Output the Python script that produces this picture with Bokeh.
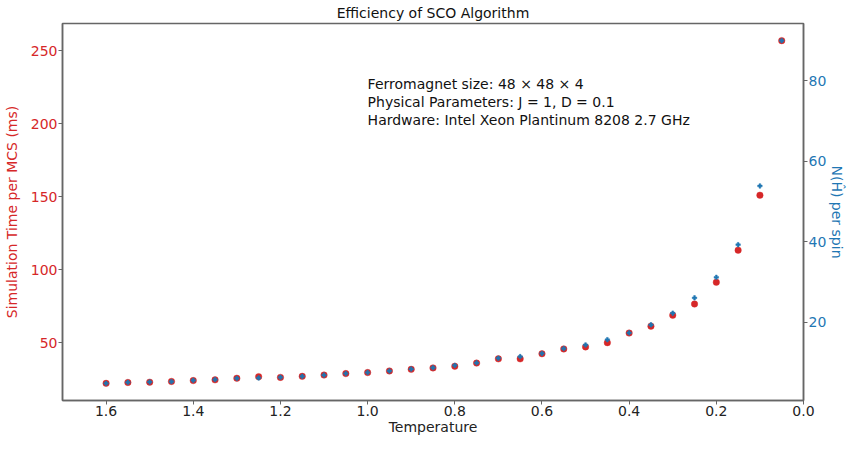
from bokeh.plotting import figure
from bokeh.models import Range1d, LinearAxis, FixedTicker, PrintfTickFormatter, Label
from bokeh.embed import file_html
from bokeh.resources import INLINE

# ---- data ----
temperature = [1.6, 1.55, 1.5, 1.45, 1.4, 1.35, 1.3, 1.25, 1.2, 1.15, 1.1,
               1.05, 1.0, 0.95, 0.9, 0.85, 0.8, 0.75, 0.7, 0.65, 0.6, 0.55,
               0.5, 0.45, 0.4, 0.35, 0.3, 0.25, 0.2, 0.15, 0.1, 0.05]
sim_time_ms = [22.1, 22.7, 22.9, 23.4, 24.0, 24.5, 25.6, 26.7, 26.2, 26.9, 27.8,
               28.8, 29.5, 30.6, 31.7, 32.7, 33.8, 36.0, 38.9, 38.9, 42.4, 45.7,
               47.1, 50.0, 56.6, 61.3, 68.8, 76.5, 91.4, 113.4, 151.1, 257.1]
n_h_per_spin = [4.85, 5.1, 5.2, 5.3, 5.6, 5.8, 6.1, 6.2, 6.35, 6.6, 6.9,
                7.3, 7.55, 7.95, 8.4, 8.75, 9.3, 9.95, 11.1, 11.5, 12.3, 13.5,
                14.4, 15.7, 17.4, 19.4, 22.3, 26.1, 31.2, 39.3, 53.9, 90.0]
x_ticks = [0.0, 0.2, 0.4, 0.6, 0.8, 1.0, 1.2, 1.4, 1.6]
left_ticks = [50, 100, 150, 200, 250]
right_ticks = [20, 40, 60, 80]
annotation_lines = ["Ferromagnet size: 48 \u00d7 48 \u00d7 4",
                    "Physical Parameters: J = 1, D = 0.1",
                    "Hardware: Intel Xeon Plantinum 8208 2.7 GHz"]

RED = "#d62728"
BLUE = "#1f77b4"
FONT = "DejaVu Sans"
SPINE = "#666666"

def pad(vals):
    lo, hi = min(vals), max(vals)
    m = 0.05 * (hi - lo)
    return lo - m, hi + m

l0, l1 = pad(sim_time_ms)
r0, r1 = pad(n_h_per_spin)

p = figure(width=848, height=437, output_backend="svg", toolbar_location=None,
           x_range=Range1d(1.7, 0.0), y_range=Range1d(l0, l1),
           min_border_left=53, min_border_right=0, min_border_top=0, min_border_bottom=0,
           title="Efficiency of SCO Algorithm")
p.extra_y_ranges = {"right": Range1d(r0, r1)}

p.title.align = "center"
p.title.text_font = FONT
p.title.text_font_size = "14px"
p.title.text_font_style = "normal"
p.title.text_color = "#111111"
p.title.standoff = 5

p.grid.visible = False
p.outline_line_color = SPINE
p.outline_line_width = 1.5
p.background_fill_color = "white"
p.border_fill_color = "white"

# bottom axis
xa = p.xaxis[0]
xa.ticker = FixedTicker(ticks=x_ticks)
xa.formatter = PrintfTickFormatter(format="%.1f")
xa.axis_label = "Temperature"

# left axis
ya = p.yaxis[0]
ya.ticker = FixedTicker(ticks=left_ticks)
ya.axis_label = "Simulation Time per MCS (ms)"
ya.axis_label_text_color = RED
ya.major_label_text_color = RED

# right axis
ra = LinearAxis(y_range_name="right", ticker=FixedTicker(ticks=right_ticks),
                axis_label="N(\u0124) per spin")
ra.axis_label_text_color = BLUE
ra.major_label_text_color = BLUE
p.add_layout(ra, "right")

for ax in (xa, ya, ra):
    ax.axis_line_color = SPINE
    ax.axis_line_width = 1.5
    ax.major_tick_line_color = SPINE
    ax.major_tick_in = 0
    ax.major_tick_out = 4
    ax.minor_tick_line_color = None
    ax.major_label_text_font = FONT
    ax.major_label_text_font_size = "14px"
    ax.axis_label_text_font = FONT
    ax.axis_label_text_font_size = "14px"
    ax.axis_label_text_font_style = "normal"
    ax.major_label_standoff = 1
    ax.axis_label_standoff = 0
xa.major_label_text_color = "#222222"
xa.axis_label_text_color = "#222222"
ya.axis_label_standoff = 8

p.scatter(temperature, sim_time_ms, size=6.5, marker="circle",
          fill_color=RED, line_color=RED, line_alpha=0.4)
p.scatter(temperature, n_h_per_spin, size=4.5, marker="plus",
          fill_color=BLUE, line_color=BLUE, line_alpha=0.5, y_range_name="right")

for i, line in enumerate(annotation_lines):
    p.add_layout(Label(x=1.0, y=227.5 - 12.4 * i, text=line,
                       text_font=FONT, text_font_size="14px",
                       text_baseline="middle", text_color="#111111"))

open("out.html", "w").write(file_html(p, INLINE))
